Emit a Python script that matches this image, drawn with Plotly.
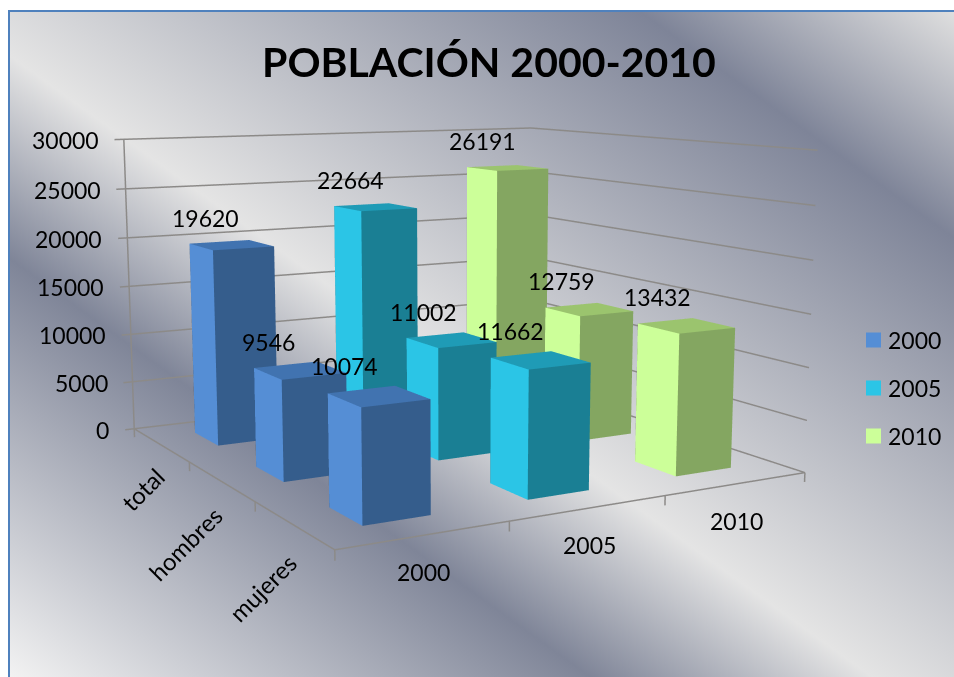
import plotly.graph_objects as go
import urllib.parse

years = ["2000", "2005", "2010"]
groups = ["total", "hombres", "mujeres"]
values_2000 = [19620, 9546, 10074]
values_2005 = [22664, 11002, 11662]
values_2010 = [26191, 12759, 13432]
series = [values_2000, values_2005, values_2010]
axis_ticks = [0, 5000, 10000, 15000, 20000, 25000, 30000]

side_colors = ["#558ed5", "#2bc5e6", "#ccff99"]
top_colors = ["#4173b0", "#1f9bb6", "#9bc46e"]
front_colors = ["#355d8c", "#1a7f94", "#84a661"]

# pixel offsets of labels from their anchors in the scene
value_label_shifts = [(-26, 27), (-31, 28), (-34, 30), (-25, 27), (-28, 28), (-30, 29), (-25, 27), (-27, 28), (-29, 29)]
group_label_shifts = [(-18, -45), (-35, -63), (-30, -63)]
year_label_shifts = [(-1, -37), (0, -37), (0, -37)]

# figure geometry: plotly's field of view is fixed, so the scene is taller than the
# window and is shifted up to get the weak perspective of the original chart
W, H, TOP = 946, 1361, -333
bar_half_x, bar_half_y = 0.200, 0.199
box = dict(x=0.815, y=0.812, z=0.503)
eye = dict(x=-1.306, y=-2.307, z=0.403)
center = dict(x=-0.009, y=-0.030, z=-0.074)
scene_width = 894.9
ZMIN, ZMAX = -2000, 32000
FONT = "Lato"


def paper(px, py):
    return (px - 8) / W, 1 - (py - TOP) / H


svg = """<svg xmlns='http://www.w3.org/2000/svg' width='946' height='667' viewBox='8 10 946 667'>
<defs><linearGradient id='g' gradientUnits='userSpaceOnUse' x1='320.6' y1='-445' x2='-317' y2='440'>
<stop offset='0' stop-color='#dfdfdf'/><stop offset='0.1685' stop-color='#7e8498'/>
<stop offset='0.539' stop-color='#e4e4e4'/><stop offset='0.69' stop-color='#7f8598'/>
<stop offset='1' stop-color='#f2f2f2'/></linearGradient></defs>
<rect x='8' y='10' width='946' height='667' fill='url(#g)'/>
<path d='M9 677V11H954' fill='none' stroke='#4f81bd' stroke-width='2'/></svg>"""
bg = "data:image/svg+xml," + urllib.parse.quote(svg)

fig = go.Figure()
LAB = dict(family=FONT, size=23, color="black")
scene_ann = []
for xi, vals in enumerate(series):
    for yi, val in enumerate(vals):
        x0, x1 = xi + .5 - bar_half_x, xi + .5 + bar_half_x
        y0, y1 = yi + .5 - bar_half_y, yi + .5 + bar_half_y
        fig.add_trace(go.Mesh3d(
            x=[x0, x1, x1, x0, x0, x1, x1, x0], y=[y0, y0, y1, y1, y0, y0, y1, y1], z=[0, 0, 0, 0, val, val, val, val],
            i=[4, 4, 0, 0, 3, 3, 0, 0], j=[5, 6, 3, 7, 2, 6, 1, 5], k=[6, 7, 7, 4, 6, 7, 5, 4],
            facecolor=[top_colors[xi]] * 2 + [side_colors[xi]] * 2 + [front_colors[xi]] * 4,
            flatshading=True, lighting=dict(ambient=1, diffuse=0, specular=0, roughness=1, fresnel=0),
            showscale=False, hoverinfo="skip"))
        sh = value_label_shifts[xi * 3 + yi]
        scene_ann.append(dict(x=xi + .5, y=yi + .5, z=val, text=str(val), showarrow=False, font=LAB, xshift=sh[0], yshift=sh[1]))

gx, gy, gz = [], [], []
for t in axis_ticks:
    gx += [-0.06, 0, 3, 3, None]; gy += [0, 0, 0, 3, None]; gz += [t, t, t, t, None]
gx += [0, 0, None, 0, 0, 3, None]; gy += [0, 0, None, 0, 3, 3, None]; gz += [0, 30000, None, 0, 0, 0, None]
for y in range(4):
    gx += [0, 0, None]; gy += [y, y, None]; gz += [0, -900, None]
for x in range(1, 4):
    gx += [x, x, None]; gy += [3, 3, None]; gz += [0, -900, None]
fig.add_trace(go.Scatter3d(x=gx, y=gy, z=gz, mode="lines", line=dict(color="#8c8a88", width=3), hoverinfo="skip"))

for t in axis_ticks:
    scene_ann.append(dict(x=0, y=0, z=t, text=str(t), showarrow=False, font=LAB, xanchor="right", xshift=-23, yshift=-1))
for j, g in enumerate(groups):
    sh = group_label_shifts[j]
    scene_ann.append(dict(x=0, y=j + .5, z=0, text=g, showarrow=False, font=dict(family=FONT, size=24, color="black"),
                          textangle=-45, xshift=sh[0], yshift=sh[1]))
for i, y in enumerate(years):
    sh = year_label_shifts[i]
    scene_ann.append(dict(x=i + .5, y=3, z=0, text=y, showarrow=False, font=LAB, xshift=sh[0], yshift=sh[1]))

tx, ty = paper(489, 62)
fig.update_layout(
    width=W, height=H, margin=dict(l=0, r=0, t=0, b=0, pad=0), autosize=False, showlegend=False,
    paper_bgcolor="white",
    images=[dict(source=bg, xref="paper", yref="paper", x=0, y=paper(8, 10)[1], sizex=1, sizey=667 / H,
                 sizing="stretch", xanchor="left", yanchor="top", layer="below")],
    scene=dict(
        domain=dict(x=[0, scene_width / W], y=[0, 1]),
        xaxis=dict(visible=False, range=[-0.1, 3.1]), yaxis=dict(visible=False, range=[3.1, -0.1]),
        zaxis=dict(visible=False, range=[ZMIN, ZMAX]),
        aspectmode="manual",
        aspectratio=dict(x=box["x"] * 3.2 / 3, y=box["y"] * 3.2 / 3, z=box["z"] * (ZMAX - ZMIN) / 30000),
        bgcolor="rgba(0,0,0,0)",
        camera=dict(projection=dict(type="perspective"), eye=eye, center=center, up=dict(x=0, y=0, z=1)),
        annotations=scene_ann),
)
fig.add_annotation(xref="paper", yref="paper", x=tx, y=ty, text="<b>POBLACIÓN 2000-2010</b>", showarrow=False,
                   xanchor="center", yanchor="middle", font=dict(size=41, family=FONT, color="black"))
for c, py, col in zip(years, [340, 388, 436], side_colors):
    ax, ay = paper(886, py)
    fig.add_annotation(xref="paper", yref="paper", x=ax, y=ay, text=c, showarrow=False, xanchor="left", yanchor="middle", font=LAB)
    a0, b0 = paper(866, py - 7.5)
    a1, b1 = paper(881, py + 7.5)
    fig.add_shape(type="rect", xref="paper", yref="paper", x0=a0, x1=a1, y0=b0, y1=b1, fillcolor=col, line_width=0)

fig.write_html("out.html", post_script="document.documentElement.style.overflow='hidden';document.body.style.overflow='visible';document.body.style.width='960px';document.body.style.marginTop='%dpx';" % TOP)
